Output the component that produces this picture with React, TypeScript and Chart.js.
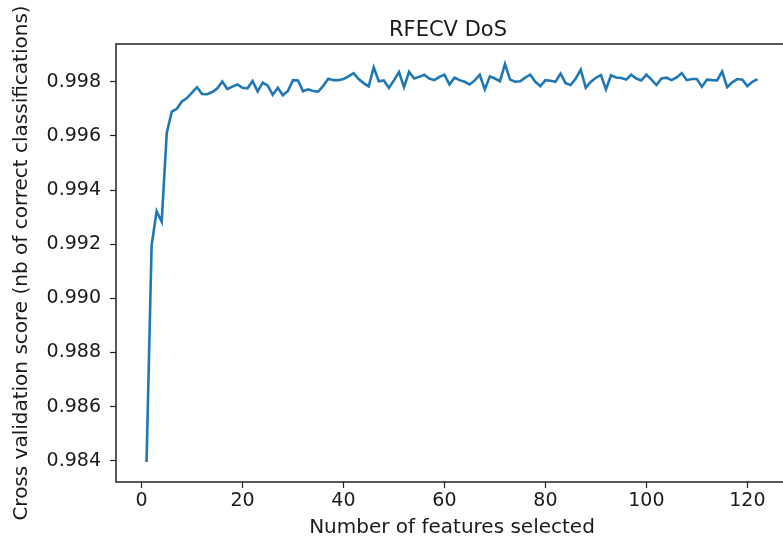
import React, { useEffect, useRef } from "react";
import { Chart, registerables } from "chart.js";

Chart.register(...registerables);

// Number of selected features (1..122)
const featureCounts: number[] = Array.from({ length: 122 }, (_, i) => i + 1);

// Mean cross-validation score for each feature count
const cvScores: number[] = [
  0.98395, 0.99195, 0.99322, 0.99283, 0.99611, 0.99690, 0.99700, 0.99727, 0.99740, 0.99760,
  0.99780, 0.99755, 0.99754, 0.99762, 0.99775, 0.99801, 0.99773, 0.99782, 0.99790, 0.99778,
  0.99776, 0.99803, 0.99764, 0.99797, 0.99786, 0.99752, 0.99778, 0.99750, 0.99766, 0.99806,
  0.99805, 0.99765, 0.99772, 0.99766, 0.99764, 0.99785, 0.99811, 0.99806, 0.99806, 0.99810,
  0.99820, 0.99832, 0.99810, 0.99795, 0.99783, 0.99853, 0.99802, 0.99805, 0.99777, 0.99805,
  0.99836, 0.99780, 0.99837, 0.99812, 0.99818, 0.99826, 0.99812, 0.99806, 0.99818, 0.99826,
  0.99790, 0.99815, 0.99806, 0.99800, 0.99790, 0.99805, 0.99826, 0.99772, 0.99820, 0.99812,
  0.99802, 0.99866, 0.99808, 0.99800, 0.99802, 0.99815, 0.99826, 0.99800, 0.99784, 0.99806,
  0.99804, 0.99800, 0.99830, 0.99795, 0.99788, 0.99812, 0.99845, 0.99778, 0.99800, 0.99815,
  0.99825, 0.99772, 0.99824, 0.99816, 0.99814, 0.99808, 0.99826, 0.99812, 0.99805, 0.99826,
  0.99808, 0.99788, 0.99812, 0.99815, 0.99806, 0.99816, 0.99832, 0.99806, 0.99810, 0.99810,
  0.99782, 0.99808, 0.99806, 0.99805, 0.99838, 0.99780, 0.99798, 0.99810, 0.99808, 0.99784,
  0.99800, 0.99810,
];

const xTicks: number[] = [0, 20, 40, 60, 80, 100, 120];
const yTicks: number[] = [0.984, 0.986, 0.988, 0.99, 0.992, 0.994, 0.996, 0.998];

const chartTitle = "RFECV DoS";
const xLabel = "Number of features selected";
const yLabel = "Cross validation score (nb of correct classifications)";

const FONT = "'DejaVu Sans', sans-serif";
const INK = "#1a1a1a";

// Axis limits with 5% margins around the data range
const xSpan = featureCounts[featureCounts.length - 1] - featureCounts[0];
const xMin = featureCounts[0] - xSpan * 0.05;
const xMax = featureCounts[featureCounts.length - 1] + xSpan * 0.05;
const yLo = Math.min(...cvScores);
const yHi = Math.max(...cvScores);
const yMin = yLo - (yHi - yLo) * 0.05;
const yMax = yHi + (yHi - yLo) * 0.05;

const framePlugin = {
  id: "frameAndLabels",
  afterDraw(chart: any) {
    const { ctx, chartArea } = chart;
    const { left, right, top, bottom } = chartArea;
    ctx.save();
    ctx.strokeStyle = "#222";
    ctx.lineWidth = 1.5;
    ctx.strokeRect(left, top, right - left, bottom - top);

    ctx.fillStyle = INK;
    const cx = (left + right) / 2;
    ctx.textAlign = "center";
    ctx.textBaseline = "alphabetic";
    ctx.font = `21px ${FONT}`;
    ctx.fillText(chartTitle, cx - 4, 36);

    ctx.font = `20px ${FONT}`;
    ctx.textBaseline = "middle";
    ctx.fillText(xLabel, cx, 528);

    ctx.translate(22, (top + bottom) / 2);
    ctx.rotate(-Math.PI / 2);
    ctx.fillText(yLabel, 0, 0);
    ctx.restore();
  },
};

export default function App() {
  const canvasRef = useRef<HTMLCanvasElement | null>(null);

  useEffect(() => {
    const canvas = canvasRef.current;
    if (!canvas) return;
    const chart = new Chart(canvas, {
      type: "line",
      data: {
        datasets: [
          {
            data: featureCounts.map((x, i) => ({ x, y: cvScores[i] })),
            borderColor: "#1f77b4",
            borderWidth: 2.6,
            pointRadius: 0,
            tension: 0,
            fill: false,
          },
        ],
      },
      options: {
        responsive: false,
        animation: false,
        devicePixelRatio: 1,
        layout: { padding: { top: 44, right: 0, left: 0, bottom: 0 } },
        plugins: {
          legend: { display: false },
          tooltip: { enabled: false },
          title: { display: false },
        },
        scales: {
          x: {
            type: "linear",
            min: xMin,
            max: xMax,
            afterBuildTicks: (scale: any) => {
              scale.ticks = xTicks.map((v) => ({ value: v }));
            },
            afterFit: (scale: any) => {
              scale.height = 66;
            },
            grid: {
              display: true,
              drawOnChartArea: false,
              drawTicks: true,
              tickLength: 6,
              tickWidth: 1.2,
              color: "#222",
            },
            border: { display: false },
            ticks: {
              color: INK,
              font: { family: FONT, size: 19 },
              padding: 2,
              maxRotation: 0,
              autoSkip: false,
              callback: (v: any) => String(v),
            },
          },
          y: {
            type: "linear",
            min: yMin,
            max: yMax,
            afterBuildTicks: (scale: any) => {
              scale.ticks = yTicks.map((v) => ({ value: v }));
            },
            afterFit: (scale: any) => {
              scale.width = 116;
            },
            grid: {
              display: true,
              drawOnChartArea: false,
              drawTicks: true,
              tickLength: 6,
              tickWidth: 1.2,
              color: "#222",
            },
            border: { display: false },
            ticks: {
              color: INK,
              font: { family: FONT, size: 19 },
              padding: 9,
              autoSkip: false,
              callback: (v: any) => Number(v).toFixed(3),
            },
          },
        },
      },
      plugins: [framePlugin],
    });
    return () => chart.destroy();
  }, []);

  return (
    <div
      style={{
        position: "fixed",
        left: 0,
        top: 0,
        width: 783,
        height: 548,
        overflow: "hidden",
        background: "#fff",
      }}
    >
      <canvas
        ref={canvasRef}
        width={788}
        height={548}
        style={{ display: "block", width: 788, height: 548 }}
      />
    </div>
  );
}
